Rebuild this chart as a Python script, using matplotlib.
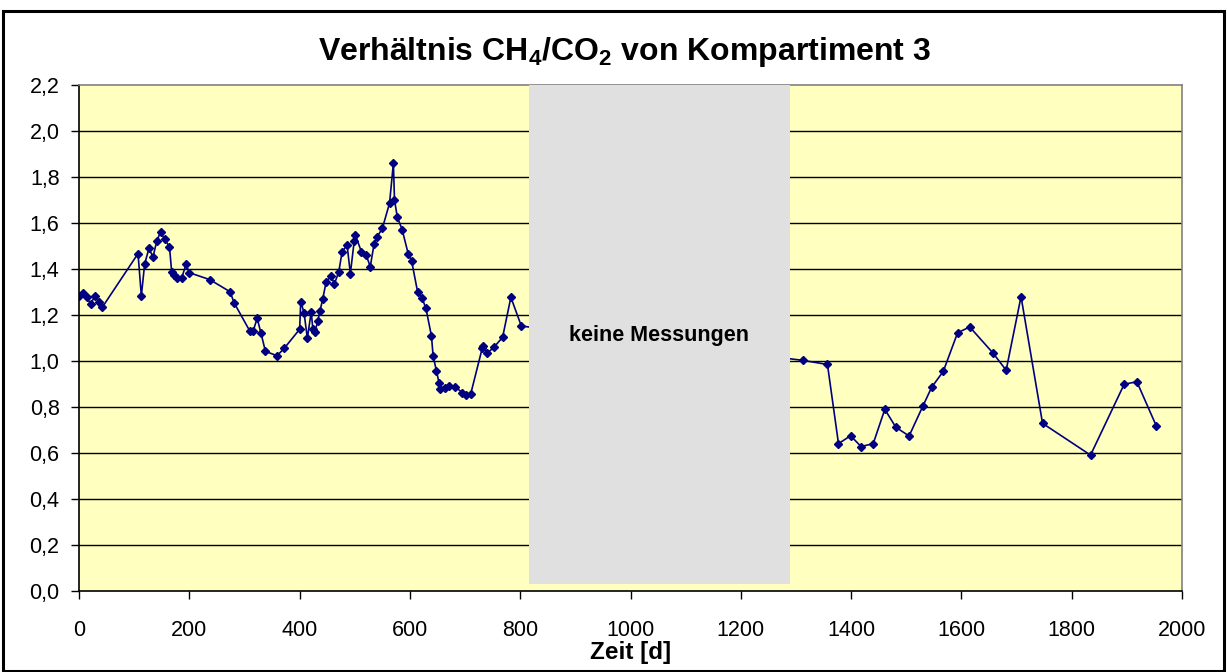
import matplotlib
matplotlib.use("Agg")
import matplotlib.pyplot as plt
from matplotlib.patches import Rectangle
from matplotlib.ticker import FuncFormatter, MultipleLocator

plt.rcParams['font.family'] = ['Liberation Sans', 'DejaVu Sans']
plt.rcParams['mathtext.fontset'] = 'custom'
plt.rcParams['mathtext.rm'] = 'Liberation Sans:bold'
plt.rcParams['mathtext.default'] = 'rm'

# Zeit [d]
tage = [0, 7, 14, 21, 29, 36, 42, 107, 113, 119, 127, 134, 141, 148, 155, 164,
        168, 172, 177, 186, 194, 200, 237, 274, 281, 310, 316, 323, 330, 338,
        359, 372, 400, 402, 408, 414, 421, 424, 428, 433, 437, 442, 448, 457,
        463, 471, 477, 486, 492, 499, 501, 512, 521, 528, 535, 540, 550, 563,
        570, 572, 577, 586, 597, 603, 614, 622, 629, 639, 642, 648, 653, 655,
        663, 671, 682, 695, 702, 710, 731, 733, 740, 753, 768, 783, 802,
        1312, 1357, 1377, 1399, 1418, 1440, 1461, 1481, 1505, 1530, 1546, 1567,
        1593, 1615, 1657, 1681, 1708, 1747, 1834, 1895, 1918, 1953]

# Verhaeltnis CH4/CO2
verhaeltnis = [1.284, 1.294, 1.277, 1.248, 1.284, 1.255, 1.233, 1.467, 1.283,
               1.422, 1.491, 1.451, 1.522, 1.562, 1.529, 1.497, 1.388, 1.374,
               1.36, 1.36, 1.42, 1.384, 1.354, 1.301, 1.254, 1.129, 1.132,
               1.186, 1.12, 1.042, 1.023, 1.055, 1.138, 1.258, 1.21, 1.099,
               1.214, 1.138, 1.128, 1.175, 1.219, 1.271, 1.343, 1.37, 1.335,
               1.388, 1.475, 1.504, 1.38, 1.523, 1.548, 1.475, 1.459, 1.41,
               1.509, 1.538, 1.577, 1.686, 1.86, 1.70, 1.627, 1.57, 1.465,
               1.436, 1.299, 1.273, 1.229, 1.109, 1.023, 0.957, 0.903, 0.878,
               0.884, 0.893, 0.888, 0.862, 0.851, 0.855, 1.055, 1.065, 1.033,
               1.062, 1.103, 1.277, 1.152,
               1.003, 0.985, 0.641, 0.675, 0.628, 0.641, 0.79, 0.712, 0.674,
               0.804, 0.886, 0.955, 1.123, 1.148, 1.035, 0.96, 1.28, 0.729,
               0.591, 0.899, 0.91, 0.719]

# Bereich ohne Messungen
luecke_start = 815
luecke_ende = 1289
luecke_unten = 0.03
luecke_oben = 2.2

fig = plt.figure(figsize=(12.27, 6.72), dpi=100)
ax = fig.add_axes([0.0644, 0.1205, 0.899, 0.753])
ax.set_facecolor('#FFFFC0')

# horizontal grid
for yy in [0.2, 0.4, 0.6, 0.8, 1.0, 1.2, 1.4, 1.6, 1.8, 2.0]:
    ax.axhline(yy, color='black', linewidth=1, zorder=1)

ax.plot(tage, verhaeltnis, color='#000080', marker='D', markersize=4,
        linewidth=1.2, zorder=2)

ax.add_patch(Rectangle((luecke_start, luecke_unten), luecke_ende - luecke_start,
                       luecke_oben - luecke_unten, facecolor='#E0E0E0',
                       edgecolor='none', zorder=3))
ax.text((luecke_start + luecke_ende) / 2 - 1, 1.109, 'keine Messungen',
        ha='center', va='center', fontsize=15.5, fontweight='bold', zorder=4)

ax.set_xlim(0, 2000)
ax.set_ylim(0, 2.2)
ax.xaxis.set_major_locator(MultipleLocator(200))
ax.yaxis.set_major_locator(MultipleLocator(0.2))
ax.yaxis.set_major_formatter(FuncFormatter(lambda v, p: f'{v:.1f}'.replace('.', ',')))
ax.tick_params(axis='both', direction='out', length=6, width=1, labelsize=15.5,
               color='black')
ax.tick_params(axis='x', pad=15)
ax.tick_params(axis='y', pad=8)

for s in ['left', 'bottom']:
    ax.spines[s].set_color('black')
    ax.spines[s].set_linewidth(1.2)
for s in ['top', 'right']:
    ax.spines[s].set_color('#808080')
    ax.spines[s].set_linewidth(1.2)

ax.set_xlabel('Zeit [d]', fontsize=17.5, fontweight='bold', labelpad=0)

fig.text(0.509, 0.922, r'Verhältnis CH$_4$/CO$_2$ von Kompartiment 3',
         ha='center', va='center', fontsize=23, fontweight='bold')

# Rahmen um die ganze Grafik
fig.patches.append(Rectangle((3 / 1227, 1 / 672), 1221 / 1227, 660 / 672,
                             transform=fig.transFigure, fill=False,
                             edgecolor='black', linewidth=2.2))

fig.savefig('out.png', dpi=100)
